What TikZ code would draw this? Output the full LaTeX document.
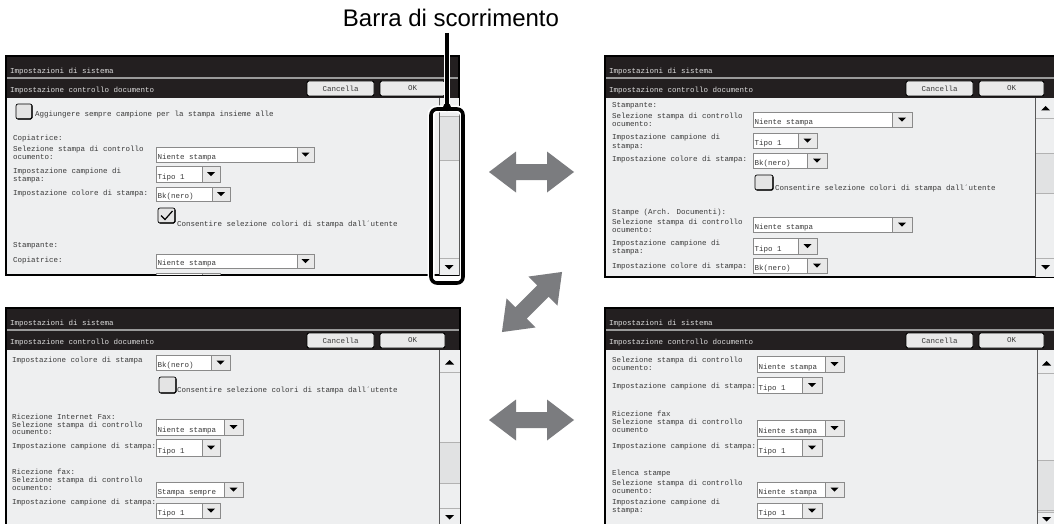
\documentclass[tikz,border=0pt]{standalone}
\usepackage{fontspec}
\setmainfont{Liberation Sans}
\newfontfamily\uimono{Liberation Mono}
\definecolor{bandc}{HTML}{231F20}
\definecolor{sepc}{HTML}{9A9A9A}
\definecolor{bgc}{HTML}{EEEFF0}
\definecolor{txtc}{HTML}{3A3A3A}
\definecolor{ttlc}{HTML}{DDDDDD}
\definecolor{btnc}{HTML}{E9E9E9}
\definecolor{arrc}{HTML}{7B7C7F}
\definecolor{thumbc}{HTML}{E1E2E3}
\definecolor{ddc}{HTML}{8A8A8A}
\definecolor{cbc}{HTML}{E4E4E4}
\tikzset{
  lbl/.style={font=\uimono\fontsize{7.5}{8}\selectfont, text=txtc, inner sep=0pt, anchor=west, text height=5pt, text depth=1.5pt},
  ttl/.style={lbl, text=ttlc},
  btn/.style={draw=black, line width=0.9pt, fill=btnc, rounded corners=2pt, inner sep=0pt, minimum height=15pt, font=\uimono\fontsize{7.5}{8}\selectfont, text=txtc},
  ddframe/.style={draw=ddc, line width=0.6pt},
  sbline/.style={draw=gray!60, line width=0.6pt},
  dblarr/.pic={\fill[arrc] (-42.5,0) -- (-15.5,-20.5) -- (-15.5,-8) -- (15.5,-8) -- (15.5,-20.5) -- (42.5,0) -- (15.5,20.5) -- (15.5,8) -- (-15.5,8) -- (-15.5,20.5) -- cycle;}
}
% panel: prefix x0 y0 x1 y1
\newcommand\uipanel[5]{%
  \fill[bgc] (#2,#3) rectangle (#4,#5);
  \fill[bandc] (#2,#3) rectangle (#4,#3+21);
  \fill[sepc] (#2,#3+21) rectangle (#4,#3+23);
  \fill[bandc] (#2,#3+23) rectangle (#4,#3+42);
  \draw[line width=1.4pt] (#2,#3) rectangle (#4,#5);
  \node[ttl] (#1t1) at (#2+4,#3+15.5) {Impostazioni di sistema};
  \node[ttl] (#1t2) at (#2+4,#3+34.5) {Impostazione controllo documento};
  \node[btn, minimum width=67pt] (#1can) at (#2+334.5,#3+32.5) {Cancella};
  \node[btn, minimum width=65pt] (#1ok) at (#2+406.5,#3+32.5) {OK};
}
% dropdown: name x0 y0 x1 y1 xa text
\newcommand\uidd[7]{%
  \fill[white] (#2,#3) rectangle (#4,#5);
  \fill[btnc] (#6,#3) rectangle (#4,#5);
  \draw[ddframe] (#2,#3) rectangle (#4,#5) (#6,#3) -- (#6,#5);
  \fill ({(#6+#4)/2-4},{(#3+#5)/2-1.8}) -- ++(8,0) -- ++(-4,4) -- cycle;
  \node[lbl] (#1) at (#2+1.5,#5-4.5) {#7};
}
% checkbox: name x0 y0 x1 y1 checked(0/1)
\newcommand\uicb[6]{%
  \draw[fill=cbc, rounded corners=2pt, line width=0.7pt] (#2,#3) rectangle (#4,#5);
  \draw[line width=1.4pt, rounded corners=1.5pt] (#2+1.5,#5) -- (#4,#5) -- (#4,#3+1.5);
  \coordinate (#1) at ({(#2+#4)/2},{(#3+#5)/2});
  \ifnum#6=1 \draw[line width=1.2pt] (#2+3,#3+7.5) -- (#2+7,#3+11.5) -- (#4-2.5,#3+3);\fi
}
% scrollbar: x0 y0 x1 y1 thumbtop thumbbot upY(0=none) downY
\newcommand\uisb[8]{%
  \fill[bgc] (#1,#2) rectangle (#3,#4);
  \fill[thumbc] (#1,#5) rectangle (#3,#6);
  \draw[sbline] (#1,#5) -- (#3,#5) (#1,#6) -- (#3,#6);
  \draw[sbline] (#1,#8-9) -- (#3,#8-9);
  \fill ({(#1+#3)/2-4.5},#8-2) -- ++(9,0) -- ++(-4.5,4.5) -- cycle;
  \ifnum#7>0
    \draw[sbline] (#1,#7+10) -- (#3,#7+10);
    \fill ({(#1+#3)/2-4.5},#7+2.5) -- ++(9,0) -- ++(-4.5,-4.5) -- cycle;
  \fi
  \draw[line width=0.8pt, black!65] (#1,#2) -- (#1,#4);
}
\begin{document}
\begin{tikzpicture}[x=1pt,y=-1pt]
\useasboundingbox (0,0) rectangle (1054,524);
\fill[white] (0,0) rectangle (1054,524);

% ---------------- Panel 1 (top left)
\uipanel{pa}{6}{56}{459}{275}
\uisb{439}{98}{459}{275}{116}{160}{0}{267}
\uicb{pacb1}{16}{104}{32}{119}{0}
\node[lbl] (pa1) at (35,115) {Aggiungere sempre campione per la stampa insieme alle};
\node[lbl] (pa2) at (13,139) {Copiatrice:};
\node[lbl] (pa3) at (13,150) {Selezione stampa di controllo};
\node[lbl] (pa4) at (13,158) {ocumento:};
\uidd{pad1}{156}{147}{314}{162}{297}{Niente stampa}
\node[lbl] (pa5) at (13,172) {Impostazione campione di};
\node[lbl] (pa6) at (13,180) {stampa:};
\uidd{pad2}{156}{166}{220}{182}{202}{Tipo 1}
\node[lbl] (pa7) at (13,194) {Impostazione colore di stampa:};
\uidd{pad3}{156}{187}{230}{201}{212}{Bk(nero)}
\uicb{pacb2}{158}{208}{175}{223}{1}
\node[lbl] (pa8) at (177,225) {Consentire selezione colori di stampa dall´utente};
\node[lbl] (pa9) at (13,246) {Stampante:};
\node[lbl] (pa10) at (13,261) {Copiatrice:};
\uidd{pad4}{156}{254}{314}{268}{297}{Niente stampa}
\begin{scope}
\clip (7,98) rectangle (438,274.3);
\uidd{pad5}{156}{273}{220}{290}{202}{}
\end{scope}

% ---------------- Panel 2 (top right)
\uipanel{pb}{605}{56}{1056}{277}
\uisb{1035}{98}{1056}{277}{153}{193}{108}{267}
\node[lbl] (pb1) at (612,106) {Stampante:};
\node[lbl] (pb2) at (612,117) {Selezione stampa di controllo};
\node[lbl] (pb3) at (612,125) {ocumento:};
\uidd{pbd1}{753}{112}{912}{127}{892}{Niente stampa}
\node[lbl] (pb4) at (612,138) {Impostazione campione di};
\node[lbl] (pb5) at (612,147) {stampa:};
\uidd{pbd2}{753}{133}{817}{148}{798}{Tipo 1}
\node[lbl] (pb6) at (612,160) {Impostazione colore di stampa:};
\uidd{pbd3}{753}{153}{827}{168}{807}{Bk(nero)}
\uicb{pbcb1}{755}{175}{773}{190}{0}
\node[lbl] (pb7) at (775,189) {Consentire selezione colori di stampa dall´utente};
\node[lbl] (pb8) at (612,213) {Stampe (Arch. Documenti):};
\node[lbl] (pb9) at (612,223) {Selezione stampa di controllo};
\node[lbl] (pb10) at (612,231) {ocumento:};
\uidd{pbd4}{753}{217}{912}{232}{892}{Niente stampa}
\node[lbl] (pb11) at (612,244) {Impostazione campione di};
\node[lbl] (pb12) at (612,252) {stampa:};
\uidd{pbd5}{753}{238}{817}{254}{798}{Tipo 1}
\node[lbl] (pb13) at (612,267) {Impostazione colore di stampa:};
\uidd{pbd6}{753}{258}{827}{273}{807}{Bk(nero)}

% ---------------- Panel 3 (bottom left)
\uipanel{pc}{6}{308}{460}{527}
\uisb{439}{350}{460}{527}{442}{483}{362}{517}
\node[lbl] (pc1) at (12,361) {Impostazione colore di stampa};
\uidd{pcd1}{156}{355}{230}{370}{211}{Bk(nero)}
\uicb{pccb1}{159}{377}{176}{393}{0}
\node[lbl] (pc2) at (177,391) {Consentire selezione colori di stampa dall´utente};
\node[lbl] (pc3) at (12,418) {Ricezione Internet Fax:};
\node[lbl] (pc4) at (12,425.5) {Selezione stampa di controllo};
\node[lbl] (pc5) at (12,433) {ocumento:};
\uidd{pcd2}{156}{419}{243}{435}{224}{Niente stampa}
\node[lbl] (pc6) at (12,447) {Impostazione campione di stampa:};
\uidd{pcd3}{156}{439}{220}{456}{202}{Tipo 1}
\node[lbl] (pc7) at (12,473) {Ricezione fax:};
\node[lbl] (pc8) at (12,481) {Selezione stampa di controllo};
\node[lbl] (pc9) at (12,489) {ocumento:};
\uidd{pcd4}{156}{482}{243}{497}{224}{ Stampa sempre}
\node[lbl] (pc10) at (12,503) {Impostazione campione di stampa:};
\uidd{pcd5}{156}{503}{220}{518}{202}{Tipo 1}

% ---------------- Panel 4 (bottom right)
\uipanel{pd}{605}{308}{1056}{527}
\uisb{1037}{350}{1056}{527}{460}{512}{363}{519}
\node[lbl] (pd1) at (612,361) {Selezione stampa di controllo};
\node[lbl] (pd2) at (612,369) {ocumento:};
\uidd{pdd1}{757}{356}{844}{372}{825}{Niente stampa}
\node[lbl] (pd3) at (612,387) {Impostazione campione di stampa:};
\uidd{pdd2}{757}{377}{822}{393}{802}{Tipo 1}
\node[lbl] (pd4) at (612,415) {Ricezione fax};
\node[lbl] (pd5) at (612,423) {Selezione stampa di controllo};
\node[lbl] (pd6) at (612,431) {ocumento};
\uidd{pdd3}{757}{420}{844}{436}{825}{Niente stampa}
\node[lbl] (pd7) at (612,447) {Impostazione campione di stampa:};
\uidd{pdd4}{757}{439}{822}{456}{802}{Tipo 1}
\node[lbl] (pd8) at (612,474) {Elenca stampe};
\node[lbl] (pd9) at (612,484) {Selezione stampa di controllo};
\node[lbl] (pd10) at (612,492) {ocumento:};
\uidd{pdd5}{757}{482}{844}{497}{825}{Niente stampa}
\node[lbl] (pd11) at (612,503) {Impostazione campione di};
\node[lbl] (pd12) at (612,511) {stampa:};
\uidd{pdd6}{757}{503}{822}{518}{802}{Tipo 1}

% ---------------- big double arrows
\pic at (531.5,172) {dblarr};
\pic[rotate=45] at (532,302) {dblarr};
\pic at (531.5,420) {dblarr};

% ---------------- scroll bar callout
\node[draw=black, line width=3.6pt, rounded corners=6pt, minimum width=32pt, minimum height=174pt,
      inner sep=0pt, preaction={draw=white, line width=7pt}] (sb) at (447,196) {};
\node[anchor=base, inner sep=0pt, font=\fontsize{24}{28}\selectfont] (lab) at (451,27) {Barra di scorrimento};
\coordinate (stemtop) at (447,33);
\draw[line width=3.6pt, preaction={draw=white, line width=6.5pt}] (stemtop) -- (sb.north);
\fill (sb.north) circle (4pt);
\end{tikzpicture}
\end{document}
